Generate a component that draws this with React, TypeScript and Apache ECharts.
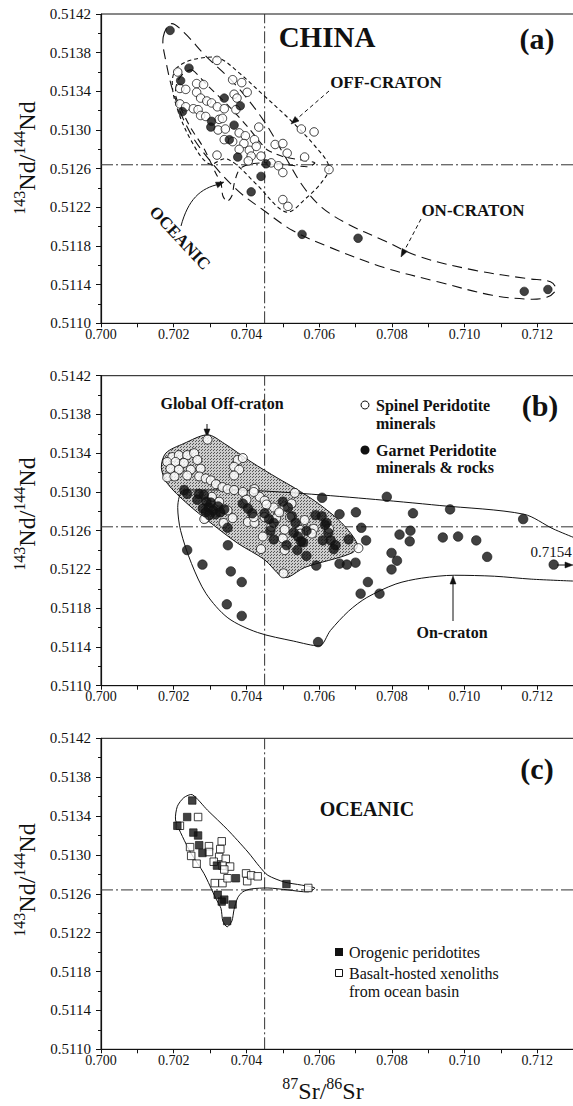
import React, { useEffect, useRef } from 'react';
import * as echarts from 'echarts';

const FONT = "'Liberation Serif', 'Times New Roman', serif";

// axes
const X_MIN = 0.7;
const X_MAX = 0.713;
const X_TICK = 0.001;
const Y_MIN = 0.511;
const Y_MAX = 0.5142;
const Y_TICK = 0.0004;
const BULK_EARTH_SR = 0.7045;
const CHUR_ND = 0.51264;

// ---------- panel (a): China ----------
const A_OPEN: number[][] = [
  [0.70319, 0.51372], [0.70211, 0.5136], [0.70217, 0.51343], [0.70233, 0.51342], [0.70263, 0.51348],
  [0.70282, 0.51347], [0.70362, 0.51352], [0.70387, 0.51349], [0.70402, 0.51339], [0.70366, 0.51337],
  [0.70374, 0.51333], [0.70263, 0.51339], [0.70274, 0.51333], [0.70291, 0.5133], [0.70304, 0.51328],
  [0.7032, 0.51324], [0.70339, 0.51322], [0.70371, 0.51321], [0.70217, 0.51327], [0.70233, 0.51324],
  [0.70254, 0.51322], [0.70267, 0.51321], [0.70274, 0.51315], [0.70288, 0.51314], [0.70325, 0.51311],
  [0.70334, 0.51312], [0.70322, 0.513], [0.70342, 0.51301], [0.7038, 0.51297], [0.70397, 0.51294],
  [0.70434, 0.51303], [0.70339, 0.5129], [0.70362, 0.51288], [0.70393, 0.51286], [0.70422, 0.5129],
  [0.7038, 0.5128], [0.70408, 0.51279], [0.70427, 0.51283], [0.70413, 0.51273], [0.7044, 0.51273],
  [0.70405, 0.51268], [0.70319, 0.51274], [0.70479, 0.51285], [0.705, 0.51286], [0.70512, 0.51276],
  [0.7056, 0.51272], [0.70468, 0.51266], [0.70488, 0.51263], [0.705, 0.51256], [0.70551, 0.51301],
  [0.70586, 0.51298], [0.70627, 0.51259], [0.705, 0.51228], [0.70514, 0.51221],
];
const A_FILLED: number[][] = [
  [0.7019, 0.51403], [0.70242, 0.51364], [0.70219, 0.51351], [0.70224, 0.51319], [0.70339, 0.51333],
  [0.70383, 0.51325], [0.70304, 0.51309], [0.70302, 0.51303], [0.70366, 0.51305], [0.70353, 0.5129],
  [0.70376, 0.51272], [0.70454, 0.51265], [0.7044, 0.51252], [0.70413, 0.51236], [0.70553, 0.51192],
  [0.70707, 0.51188], [0.71164, 0.51133], [0.71229, 0.51135],
];
const A_OFF_CRATON: number[][] = [
  [0.70206, 0.51363], [0.70238, 0.51371], [0.70287, 0.51375], [0.70327, 0.51374], [0.70377, 0.5136],
  [0.70447, 0.51336], [0.70527, 0.51308], [0.70587, 0.51284], [0.70627, 0.51262], [0.70607, 0.51246],
  [0.70557, 0.51227], [0.70517, 0.51215], [0.70487, 0.5122], [0.70427, 0.51244], [0.70347, 0.5127],
  [0.70297, 0.51265], [0.70248, 0.51289], [0.70208, 0.51324], [0.70196, 0.51348],
];
const A_ON_CRATON: number[][] = [
  [0.70171, 0.51396], [0.70193, 0.5141], [0.70228, 0.51401], [0.70287, 0.51377], [0.70367, 0.51348],
  [0.70447, 0.5131], [0.70507, 0.51272], [0.70557, 0.51241], [0.70607, 0.5122], [0.70677, 0.51203],
  [0.70776, 0.51186], [0.70876, 0.51169], [0.71026, 0.51155], [0.71176, 0.51146], [0.71236, 0.51143],
  [0.71251, 0.51135], [0.71226, 0.51127], [0.71176, 0.51125], [0.71076, 0.51129], [0.70926, 0.51143],
  [0.70776, 0.51158], [0.70627, 0.51179], [0.70527, 0.51196], [0.70447, 0.51217], [0.70377, 0.51237],
  [0.70307, 0.51265], [0.70247, 0.51296], [0.70203, 0.51334], [0.70178, 0.51372],
];

// ---------- panel (b): global ----------
const B_OPEN: number[][] = [
  [0.70293, 0.51354], [0.70196, 0.51336], [0.70214, 0.51338], [0.70237, 0.51338], [0.70256, 0.5134],
  [0.70182, 0.51331], [0.70205, 0.51331], [0.70228, 0.5133], [0.70265, 0.51333], [0.70191, 0.51324],
  [0.70214, 0.51323], [0.70247, 0.51323], [0.70274, 0.51324], [0.70182, 0.51315], [0.70202, 0.51316],
  [0.70237, 0.51317], [0.7027, 0.51316], [0.70288, 0.51314], [0.70302, 0.51312], [0.70316, 0.51308],
  [0.70334, 0.51305], [0.70348, 0.51303], [0.70366, 0.51302], [0.7039, 0.513], [0.70422, 0.51303],
  [0.70436, 0.51295], [0.70376, 0.51333], [0.7039, 0.51335], [0.70366, 0.51326], [0.7038, 0.51323],
  [0.70366, 0.51317], [0.70288, 0.51273], [0.70348, 0.51281], [0.70362, 0.51273], [0.70404, 0.51269],
  [0.70422, 0.51268], [0.70445, 0.51254], [0.70468, 0.51264], [0.70482, 0.51273], [0.70487, 0.51281],
  [0.70505, 0.51285], [0.70524, 0.51288], [0.70533, 0.51299], [0.70505, 0.51261], [0.705, 0.51252],
  [0.70547, 0.51261], [0.7056, 0.51271], [0.70505, 0.5124], [0.70585, 0.51262], [0.70627, 0.51262],
  [0.70708, 0.51242], [0.70502, 0.51216], [0.7044, 0.51241], [0.70548, 0.51257], [0.7045, 0.51274],
  [0.7042, 0.51274], [0.70337, 0.51268], [0.70284, 0.51272], [0.7042, 0.513], [0.7045, 0.51291],
  [0.70475, 0.51284], [0.7049, 0.51279], [0.7052, 0.51274], [0.7058, 0.51257], [0.70305, 0.51295],
  [0.70325, 0.5129], [0.70455, 0.51287], [0.704, 0.51292],
];
const B_FILLED: number[][] = [
  [0.70229, 0.51302], [0.70237, 0.51298], [0.70269, 0.51298], [0.70265, 0.51292], [0.70283, 0.51297],
  [0.7029, 0.5129], [0.70296, 0.51284], [0.70302, 0.51289], [0.70308, 0.51281], [0.70315, 0.51277],
  [0.70322, 0.51285], [0.70328, 0.51279], [0.7028, 0.51283], [0.70288, 0.51279], [0.70298, 0.51276],
  [0.70339, 0.51282], [0.70348, 0.51263], [0.7039, 0.51288], [0.70404, 0.51283], [0.70416, 0.51278],
  [0.7045, 0.51278], [0.70462, 0.51272], [0.70475, 0.51268], [0.70466, 0.5126], [0.705, 0.5129],
  [0.70514, 0.51284], [0.70525, 0.51275], [0.70535, 0.51268], [0.70542, 0.51254], [0.70556, 0.51248],
  [0.70565, 0.5126], [0.70607, 0.51275], [0.70616, 0.51266], [0.70625, 0.51258], [0.70632, 0.5125],
  [0.70645, 0.51245], [0.70349, 0.51245], [0.70475, 0.51251], [0.7051, 0.51245], [0.7054, 0.5124],
  [0.70565, 0.51234], [0.7061, 0.5125], [0.7064, 0.51241], [0.7053, 0.51258], [0.7055, 0.51249],
  [0.7062, 0.51268], [0.7059, 0.51276],
  [0.70608, 0.51294], [0.70786, 0.51295], [0.71161, 0.51272], [0.7096, 0.51282], [0.70858, 0.51278],
  [0.70701, 0.51279], [0.70656, 0.51277], [0.70716, 0.51263], [0.70729, 0.5125], [0.70681, 0.51251],
  [0.70821, 0.51256], [0.70849, 0.51249], [0.70851, 0.5126], [0.7094, 0.51253], [0.70982, 0.51254],
  [0.71032, 0.5125], [0.70799, 0.51237], [0.70814, 0.51229], [0.70799, 0.5122], [0.71062, 0.51233],
  [0.71245, 0.51225], [0.70734, 0.51207], [0.70714, 0.51195], [0.70766, 0.51195], [0.707, 0.51227],
  [0.70676, 0.51225], [0.70656, 0.51226], [0.70592, 0.51224], [0.70597, 0.51145], [0.70237, 0.5124],
  [0.70279, 0.51225], [0.70357, 0.51218], [0.70387, 0.51207], [0.70346, 0.51184], [0.70387, 0.51172],
];
const B_OFF_CRATON_FIELD: number[][] = [
  [0.70293, 0.51359], [0.70339, 0.5135], [0.70413, 0.51331], [0.70487, 0.51314], [0.70533, 0.51304],
  [0.70598, 0.51288], [0.70662, 0.51268], [0.70705, 0.51246], [0.7069, 0.51237], [0.7056, 0.51222],
  [0.70515, 0.51212], [0.70495, 0.51213], [0.7045, 0.5123], [0.70376, 0.51247], [0.70302, 0.51268],
  [0.70237, 0.51288], [0.70182, 0.51309], [0.70166, 0.51325], [0.70178, 0.5134], [0.70228, 0.5135],
];
const B_ON_CRATON: number[][] = [
  [0.713, 0.51253], [0.71243, 0.51262], [0.71163, 0.51277], [0.70932, 0.51286], [0.70731, 0.51293],
  [0.7053, 0.51299], [0.70369, 0.51302], [0.70229, 0.51302], [0.70211, 0.51284], [0.70219, 0.5126],
  [0.70249, 0.51226], [0.70289, 0.51195], [0.70349, 0.5117], [0.7043, 0.51155], [0.7053, 0.51146],
  [0.706, 0.51141], [0.70631, 0.51157], [0.70681, 0.51177], [0.70731, 0.51191], [0.70811, 0.51205],
  [0.70882, 0.51211], [0.70972, 0.51214], [0.71082, 0.51213], [0.71183, 0.5121], [0.713, 0.51208],
];

// ---------- panel (c): oceanic ----------
const C_OROGENIC: number[][] = [
  [0.70251, 0.51356], [0.70237, 0.51339], [0.7021, 0.5133], [0.70254, 0.51323], [0.70267, 0.5132],
  [0.7027, 0.5131], [0.70279, 0.51302], [0.70319, 0.51289], [0.70371, 0.51276], [0.7051, 0.5127],
  [0.70321, 0.51259], [0.70339, 0.51254], [0.70362, 0.51249], [0.70347, 0.51232], [0.70332, 0.51252],
];
const C_BASALT_HOSTED: number[][] = [
  [0.70267, 0.51339], [0.70217, 0.5133], [0.70245, 0.51308], [0.70248, 0.51299], [0.70263, 0.51291],
  [0.70297, 0.51309], [0.70297, 0.51303], [0.70332, 0.51314], [0.70325, 0.51298], [0.70343, 0.51296],
  [0.70334, 0.51289], [0.70355, 0.51288], [0.70339, 0.51285], [0.70313, 0.51271], [0.70334, 0.51271],
  [0.70348, 0.51276], [0.70399, 0.51281], [0.70402, 0.51273], [0.70413, 0.51279], [0.70431, 0.51278],
  [0.7057, 0.51266], [0.70328, 0.51306], [0.7031, 0.51293],
];
const OCEANIC_FIELD: number[][] = [
  [0.70251, 0.51362], [0.70293, 0.51346], [0.70348, 0.51326], [0.70404, 0.51303], [0.70436, 0.51288],
  [0.70459, 0.51279], [0.70505, 0.51272], [0.70551, 0.51269], [0.70588, 0.51266], [0.7057, 0.51262],
  [0.70514, 0.51264], [0.70459, 0.51266], [0.70413, 0.51265], [0.7039, 0.51262], [0.70376, 0.51256],
  [0.70366, 0.51244], [0.7036, 0.51232], [0.70347, 0.51226], [0.70335, 0.51232], [0.7033, 0.51245],
  [0.70316, 0.51255], [0.70283, 0.51281], [0.70247, 0.51302], [0.70224, 0.51319], [0.70205, 0.51336],
  [0.7021, 0.5135], [0.70228, 0.51359],
];

const GRID_TOP = [14, 375.7, 738.3];
const GRID_H = [309.3, 310, 311];
const GRID_LEFT = 101;
const GRID_W = 472.7;

function stipple() {
  const c = document.createElement('canvas');
  c.width = 3;
  c.height = 3;
  const g = c.getContext('2d')!;
  g.fillStyle = '#cccccc';
  g.fillRect(0, 0, 3, 3);
  g.fillStyle = '#555555';
  g.fillRect(0, 0, 1, 1);
  g.fillRect(1, 2, 1, 1);
  return { type: 'pattern', image: c.toDataURL(), repeat: 'repeat', imageWidth: 3, imageHeight: 3 };
}

function arrow(x1: number, y1: number, x2: number, y2: number, dashed: boolean) {
  const dx = x2 - x1;
  const dy = y2 - y1;
  const len = Math.hypot(dx, dy) || 1;
  const ux = dx / len, uy = dy / len;
  const L = 8, W = 3;
  const head = {
    type: 'polygon',
    shape: { points: [[x2, y2], [x2 - ux * L - uy * W, y2 - uy * L + ux * W], [x2 - ux * L + uy * W, y2 - uy * L - ux * W]] },
    style: { fill: '#111', stroke: '#111', lineWidth: 0.5 },
  };
  const line = {
    type: 'line',
    shape: { x1, y1, x2: x2 - ux * 4, y2: y2 - uy * 4 },
    style: { stroke: '#111', lineWidth: 1, lineDash: dashed ? [4, 3] : null },
  };
  return [line, head];
}

function txt(x: number, y: number, text: string, size: number, bold: boolean, align = 'center', rotation = 0) {
  return {
    type: 'text', x, y, rotation,
    style: { text, fontFamily: FONT, fontSize: size, fontWeight: bold ? 'bold' : 'normal', fill: '#111', align, verticalAlign: 'middle' },
  };
}

function supTitle(x: number, y: number, a: string, b: string, c: string, d: string, rotation: number) {
  return {
    type: 'text', x, y, rotation,
    style: {
      text: `{s|${a}}{n|${b}}{s|${c}}{n|${d}}`,
      align: 'center', verticalAlign: 'middle', fill: '#111',
      rich: {
        s: { fontFamily: FONT, fontSize: 16, verticalAlign: 'top', lineHeight: 16, fill: '#111' },
        n: { fontFamily: FONT, fontSize: 24, verticalAlign: 'bottom', lineHeight: 28, fill: '#111' },
      },
    },
  };
}

export default function App() {
  const ref = useRef<HTMLDivElement>(null);
  useEffect(() => {
    const chart = echarts.init(ref.current!, null, { renderer: 'svg' });
    const pattern = stipple();

    const grids = GRID_TOP.map((top, i) => ({
      left: GRID_LEFT, width: GRID_W, top, height: GRID_H[i],
      show: true, borderColor: '#111', borderWidth: 1, backgroundColor: 'transparent',
    }));
    const xAxes = GRID_TOP.map((_, i) => ({
      type: 'value', gridIndex: i, min: X_MIN, max: X_MAX, interval: X_TICK,
      axisLine: { show: true, onZero: false, lineStyle: { color: '#111', width: 1.2 } },
      axisTick: { show: true, inside: false, length: 4, lineStyle: { color: '#111' } },
      splitLine: { show: false },
      axisLabel: {
        fontFamily: FONT, fontSize: 14, color: '#111', margin: 4,
        formatter: (v: number) => (Math.round(v * 1000) % 2 === 0 ? v.toFixed(3) : ''),
      },
    }));
    const yAxes = GRID_TOP.map((_, i) => ({
      type: 'value', gridIndex: i, min: Y_MIN, max: Y_MAX, interval: Y_TICK,
      axisLine: { show: true, onZero: false, lineStyle: { color: '#111', width: 1.2 } },
      axisTick: { show: true, inside: false, length: 5, lineStyle: { color: '#111' } },
      minorTick: { show: true, splitNumber: 2, length: 3, lineStyle: { color: '#111' } },
      splitLine: { show: false },
      minorSplitLine: { show: false },
      axisLabel: { fontFamily: FONT, fontSize: 15, color: '#111', margin: 10, formatter: (v: number) => v.toFixed(4) },
    }));

    const refLines = (i: number) => [
      {
        type: 'line', xAxisIndex: i, yAxisIndex: i, silent: true, symbol: 'none', z: 1,
        data: [[BULK_EARTH_SR, Y_MIN], [BULK_EARTH_SR, Y_MAX]],
        lineStyle: { color: '#333', width: 1, type: [12, 3, 2, 3] },
      },
      {
        type: 'line', xAxisIndex: i, yAxisIndex: i, silent: true, symbol: 'none', z: 1,
        data: [[X_MIN, CHUR_ND], [X_MAX, CHUR_ND]],
        lineStyle: { color: '#333', width: 1, type: [12, 3, 2, 3] },
      },
    ];
    const envelope = (i: number, pts: number[][], style: any, smooth: number, z: number) => ({
      type: 'custom', xAxisIndex: i, yAxisIndex: i, silent: true, z,
      data: [[pts[0][0], pts[0][1]]],
      renderItem: (_p: any, api: any) => ({
        type: 'polygon',
        shape: { points: pts.map((p) => api.coord(p)), smooth },
        style,
      }),
    });
    const scatter = (i: number, data: number[][], symbol: string, size: number, filled: boolean) => ({
      type: 'scatter', xAxisIndex: i, yAxisIndex: i, silent: true, z: 4,
      data, symbol, symbolSize: size,
      itemStyle: filled
        ? { color: '#111', borderColor: '#111', borderWidth: 0.8 }
        : { color: '#fff', borderColor: '#111', borderWidth: 1 },
    });

    const series: any[] = [
      ...refLines(0), ...refLines(1), ...refLines(2),
      // (a)
      envelope(0, A_ON_CRATON, { fill: 'none', stroke: '#111', lineWidth: 1.1, lineDash: [10, 6] }, 0.35, 2),
      envelope(0, A_OFF_CRATON, { fill: 'none', stroke: '#111', lineWidth: 1.1, lineDash: [4, 3] }, 0.35, 2),
      envelope(0, OCEANIC_FIELD, { fill: 'none', stroke: '#111', lineWidth: 1.1, lineDash: [7, 5] }, 0.25, 2),
      scatter(0, A_OPEN, 'circle', 8.5, false),
      scatter(0, A_FILLED, 'circle', 8.5, true),
      // (b)
      envelope(1, B_OFF_CRATON_FIELD, { fill: pattern, stroke: '#111', lineWidth: 1 }, 0.3, 2),
      {
        type: 'line', xAxisIndex: 1, yAxisIndex: 1, silent: true, symbol: 'none', z: 3, smooth: 0.3,
        data: B_ON_CRATON, lineStyle: { color: '#111', width: 1 },
      },
      scatter(1, B_OPEN, 'circle', 9, false),
      scatter(1, B_FILLED, 'circle', 9.5, true),
      // (c)
      envelope(2, OCEANIC_FIELD, { fill: 'none', stroke: '#111', lineWidth: 1 }, 0.25, 2),
      scatter(2, C_BASALT_HOSTED, 'rect', 7.5, false),
      scatter(2, C_OROGENIC, 'rect', 7.5, true),
    ];

    const graphics: any[] = [
      // titles
      supTitle(25, 158, '143', 'Nd/', '144', 'Nd', Math.PI / 2),
      supTitle(25, 514, '143', 'Nd/', '144', 'Nd', Math.PI / 2),
      supTitle(25, 880, '143', 'Nd/', '144', 'Nd', Math.PI / 2),
      supTitle(323, 1089, '87', 'Sr/', '86', 'Sr', 0),
      // (a)
      txt(327, 37, 'CHINA', 29, true),
      txt(537, 38, '(a)', 30, true),
      txt(386, 82, 'OFF-CRATON', 17, true),
      ...arrow(329, 91, 291, 124, true),
      txt(473, 210, 'ON-CRATON', 17, true),
      ...arrow(421, 219, 401, 257, true),
      txt(180, 238, 'OCEANIC', 17, true, 'center', -0.82),
      {
        type: 'bezierCurve',
        shape: { x1: 181, y1: 226, x2: 220, y2: 184, cpx1: 188, cpy1: 200, cpx2: 200, cpy2: 188 },
        style: { stroke: '#111', lineWidth: 1, fill: 'none' },
      },
      ...arrow(214, 186, 224, 182, false).slice(1),
      // (b)
      txt(222, 403, 'Global Off-craton', 16, true),
      ...arrow(207, 424, 207, 437, false),
      { type: 'circle', shape: { cx: 365, cy: 405, r: 4 }, style: { fill: '#fff', stroke: '#111', lineWidth: 1 } },
      txt(376, 405, 'Spinel Peridotite', 16, true, 'left'),
      txt(376, 423, 'minerals', 16, true, 'left'),
      { type: 'circle', shape: { cx: 365, cy: 450, r: 4.5 }, style: { fill: '#111' } },
      txt(376, 450, 'Garnet Peridotite', 16, true, 'left'),
      txt(376, 467, 'minerals & rocks', 16, true, 'left'),
      txt(540, 405, '(b)', 30, true),
      txt(551, 552, '0.7154', 15, false),
      ...arrow(557, 565, 573, 565, false),
      txt(452, 632, 'On-craton', 16, true),
      ...arrow(453, 621, 453, 576, false),
      // (c)
      txt(537, 768, '(c)', 30, true),
      txt(367, 809, 'OCEANIC', 20, true),
      { type: 'rect', shape: { x: 335, y: 948, width: 8, height: 8 }, style: { fill: '#111' } },
      txt(349, 952, 'Orogenic peridotites', 16, false, 'left'),
      { type: 'rect', shape: { x: 335.5, y: 969.5, width: 7, height: 7 }, style: { fill: '#fff', stroke: '#111', lineWidth: 1 } },
      txt(349, 973, 'Basalt-hosted xenoliths', 16, false, 'left'),
      txt(349, 991, 'from ocean basin', 16, false, 'left'),
    ];

    chart.setOption({
      animation: false,
      backgroundColor: '#fff',
      grid: grids,
      xAxis: xAxes,
      yAxis: yAxes,
      series,
      graphic: { elements: graphics },
    } as any);
    return () => chart.dispose();
  }, []);
  return (
    <div style={{ position: 'absolute', left: 0, top: 0, width: 573, height: 1106, overflow: 'hidden', background: '#fff' }}>
      <div ref={ref} style={{ width: 600, height: 1106 }} />
    </div>
  );
}
